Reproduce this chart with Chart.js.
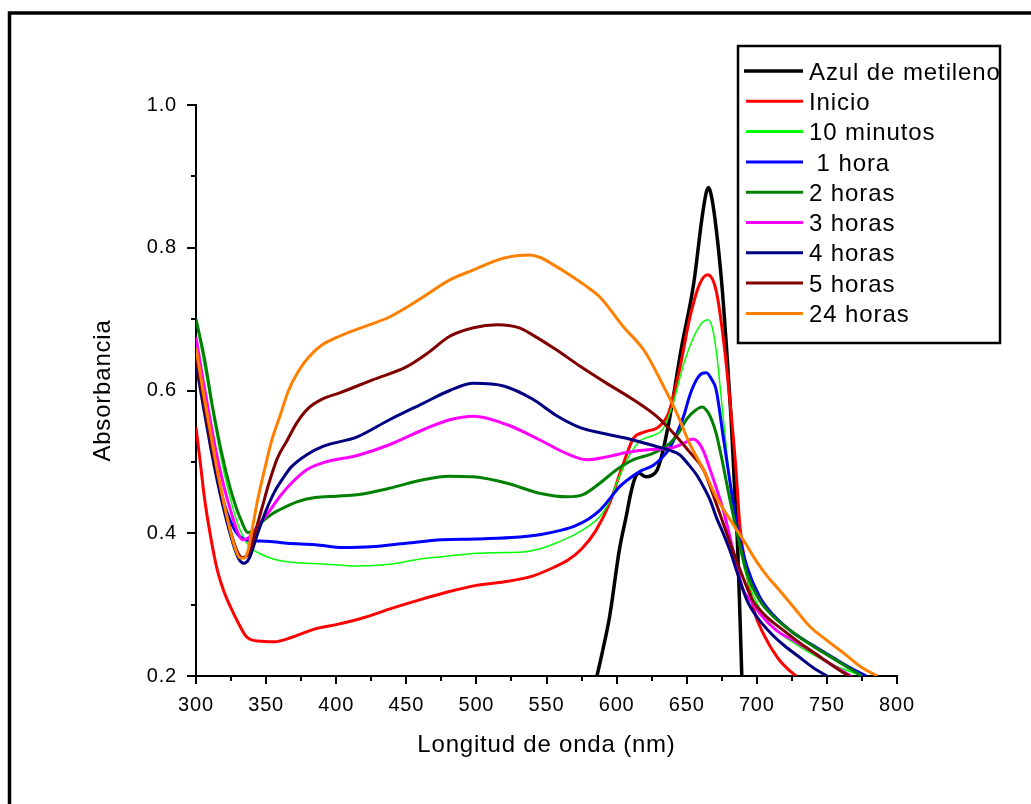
<!DOCTYPE html>
<html>
<head>
<meta charset="utf-8">
<script src="https://cdn.jsdelivr.net/npm/chart.js@4.4.1/dist/chart.umd.min.js"></script>
<style>
  html, body { margin: 0; padding: 0; background: #fff; overflow: hidden; }
  canvas { display: block; }
</style>
</head>
<body>
<canvas id="c" width="1031" height="804" style="width:1031px;height:804px"></canvas>
<script>
// UV-Vis spectra: absorbance vs wavelength (nm)
const seriesNames = ['Azul de metileno', 'Inicio', '10 minutos', ' 1 hora', '2 horas', '3 horas', '4 horas', '5 horas', '24 horas'];
const seriesColors = ['#000000', '#ff0000', '#00ff00', '#0000ff', '#008000', '#ff00ff', '#000080', '#800000', '#ff8000'];

const xTickLabels = [300, 350, 400, 450, 500, 550, 600, 650, 700, 750, 800];
const yTickLabels = ['0.2', '0.4', '0.6', '0.8', '1.0'];

const wlAzul = [586, 590, 595, 602, 607, 610, 613, 616, 621, 625, 629, 633, 638, 646, 655, 661, 664, 665.5, 667, 670, 675, 678.5, 681.6, 684, 686.4, 688, 689.3];
const absAzul = [0.200, 0.235, 0.283, 0.377, 0.425, 0.455, 0.477, 0.484, 0.479, 0.481, 0.489, 0.515, 0.563, 0.657, 0.750, 0.843, 0.878, 0.884, 0.878, 0.843, 0.750, 0.657, 0.563, 0.470, 0.377, 0.283, 0.200];

const wlInicio = [300, 303, 306, 310, 315, 320, 325, 330, 336, 344, 356, 368, 385, 400, 420, 440, 460, 480, 500, 520, 540, 555, 565, 575, 585, 595, 604, 612, 620, 630, 637, 645, 652, 659, 665, 671, 676, 681, 685, 688, 693, 698, 705, 715, 722, 728];
const absInicio = [0.548, 0.500, 0.450, 0.400, 0.350, 0.318, 0.295, 0.275, 0.255, 0.249, 0.248, 0.254, 0.266, 0.272, 0.282, 0.295, 0.307, 0.318, 0.327, 0.332, 0.340, 0.352, 0.362, 0.378, 0.403, 0.442, 0.493, 0.533, 0.542, 0.549, 0.568, 0.630, 0.700, 0.748, 0.762, 0.740, 0.675, 0.582, 0.493, 0.409, 0.344, 0.292, 0.258, 0.225, 0.210, 0.200];

const wl10min = [300, 305, 310, 315, 320, 325, 330, 335, 340, 345, 355, 370, 390, 415, 440, 460, 480, 500, 520, 535, 550, 560, 570, 580, 588, 595, 600, 605, 610, 617, 626, 633, 640, 648, 655, 661, 665, 668, 671, 676, 681, 686, 690, 695, 702, 712, 725, 740, 755, 775];
const abs10min = [0.700, 0.645, 0.590, 0.535, 0.485, 0.445, 0.412, 0.390, 0.378, 0.372, 0.364, 0.359, 0.357, 0.354, 0.357, 0.364, 0.368, 0.372, 0.373, 0.374, 0.381, 0.389, 0.398, 0.410, 0.423, 0.445, 0.470, 0.493, 0.512, 0.530, 0.537, 0.546, 0.580, 0.638, 0.675, 0.695, 0.699, 0.690, 0.657, 0.563, 0.470, 0.400, 0.360, 0.325, 0.295, 0.268, 0.248, 0.230, 0.215, 0.200];

const wl1h = [300, 305, 310, 315, 320, 325, 330, 337, 345, 355, 365, 385, 405, 425, 450, 475, 500, 525, 545, 560, 570, 580, 588, 595, 602, 610, 618, 626, 632, 638, 643, 648, 652, 657, 661, 664, 668, 671, 676, 681, 686, 693, 702, 712, 725, 740, 755, 768, 778];
const abs1h = [0.645, 0.590, 0.533, 0.485, 0.442, 0.415, 0.398, 0.390, 0.389, 0.388, 0.386, 0.384, 0.380, 0.381, 0.386, 0.391, 0.392, 0.394, 0.398, 0.404, 0.410, 0.420, 0.432, 0.448, 0.465, 0.478, 0.488, 0.495, 0.505, 0.520, 0.540, 0.565, 0.592, 0.615, 0.624, 0.625, 0.615, 0.601, 0.536, 0.470, 0.409, 0.353, 0.311, 0.285, 0.262, 0.243, 0.225, 0.210, 0.200];

const wl2h = [300, 306, 312, 318, 324, 328, 332, 337, 341, 346, 355, 365, 372, 385, 400, 415, 438, 462, 480, 498, 522, 545, 565, 576, 588, 600, 612, 626, 638, 644, 650, 656, 661, 665, 668, 671, 675, 679, 686, 693, 702, 712, 725, 740, 755, 765, 775];
const abs2h = [0.700, 0.645, 0.575, 0.515, 0.466, 0.440, 0.419, 0.401, 0.403, 0.414, 0.428, 0.438, 0.444, 0.450, 0.452, 0.454, 0.463, 0.475, 0.480, 0.479, 0.470, 0.456, 0.451, 0.454, 0.470, 0.489, 0.503, 0.512, 0.526, 0.540, 0.560, 0.572, 0.577, 0.570, 0.558, 0.540, 0.505, 0.465, 0.400, 0.344, 0.306, 0.283, 0.262, 0.242, 0.224, 0.212, 0.200];

const wl3h = [300, 305, 310, 315, 320, 325, 330, 333, 337, 344, 352, 360, 367, 379, 391, 415, 438, 462, 481, 498, 522, 545, 564, 579, 593, 607, 622, 638, 648, 654, 658, 662, 666, 670, 676, 683, 690, 696, 702, 714, 726, 738, 750, 760, 767];
const abs3h = [0.675, 0.615, 0.560, 0.508, 0.465, 0.430, 0.400, 0.391, 0.393, 0.410, 0.430, 0.452, 0.468, 0.489, 0.499, 0.509, 0.524, 0.545, 0.559, 0.564, 0.552, 0.531, 0.512, 0.503, 0.507, 0.513, 0.517, 0.519, 0.526, 0.532, 0.528, 0.515, 0.493, 0.470, 0.433, 0.377, 0.322, 0.305, 0.288, 0.264, 0.250, 0.236, 0.220, 0.208, 0.200];

const wl4h = [300, 305, 310, 315, 320, 325, 330, 334, 338, 344, 350, 356, 362, 368, 379, 391, 415, 438, 462, 481, 498, 520, 540, 557, 574, 590, 607, 624, 638, 645, 651, 657, 662, 667, 671, 676, 681, 686, 693, 700, 710, 720, 730, 740, 750];
const abs4h = [0.638, 0.580, 0.525, 0.475, 0.432, 0.395, 0.366, 0.358, 0.365, 0.400, 0.432, 0.458, 0.477, 0.493, 0.510, 0.522, 0.535, 0.559, 0.582, 0.600, 0.610, 0.606, 0.588, 0.565, 0.548, 0.540, 0.533, 0.524, 0.516, 0.510, 0.497, 0.482, 0.465, 0.445, 0.423, 0.400, 0.375, 0.345, 0.306, 0.283, 0.260, 0.242, 0.227, 0.212, 0.200];

const wl5h = [300, 305, 310, 315, 320, 325, 330, 333, 337, 342, 347, 352, 358, 365, 372, 380, 390, 403, 426, 450, 465, 481, 498, 515, 530, 540, 557, 574, 593, 612, 629, 643, 652, 662, 671, 681, 688, 697, 707, 719, 731, 745, 759, 766];
const abs5h = [0.650, 0.590, 0.535, 0.485, 0.440, 0.400, 0.372, 0.366, 0.370, 0.400, 0.435, 0.470, 0.505, 0.530, 0.555, 0.575, 0.588, 0.597, 0.615, 0.633, 0.652, 0.676, 0.688, 0.692, 0.688, 0.678, 0.657, 0.634, 0.610, 0.587, 0.563, 0.535, 0.514, 0.489, 0.442, 0.386, 0.349, 0.306, 0.283, 0.264, 0.246, 0.227, 0.208, 0.200];

const wl24h = [300, 305, 310, 316, 322, 327, 331, 334, 337, 340, 344, 349, 354, 360, 366, 373, 380, 390, 400, 415, 438, 462, 481, 498, 517, 530, 538, 546, 555, 565, 577, 588, 605, 620, 634, 643, 652, 662, 671, 681, 690, 700, 709, 714, 726, 738, 750, 762, 774, 786];
const abs24h = [0.660, 0.600, 0.545, 0.480, 0.424, 0.385, 0.366, 0.365, 0.375, 0.405, 0.447, 0.490, 0.530, 0.565, 0.600, 0.627, 0.646, 0.664, 0.674, 0.686, 0.703, 0.731, 0.755, 0.769, 0.784, 0.789, 0.790, 0.786, 0.776, 0.764, 0.748, 0.731, 0.689, 0.655, 0.604, 0.568, 0.526, 0.489, 0.451, 0.419, 0.392, 0.360, 0.336, 0.325, 0.297, 0.269, 0.250, 0.232, 0.213, 0.200];

const seriesX = [wlAzul, wlInicio, wl10min, wl1h, wl2h, wl3h, wl4h, wl5h, wl24h];
const seriesY = [absAzul, absInicio, abs10min, abs1h, abs2h, abs3h, abs4h, abs5h, abs24h];
const lineWidths = [3.5, 3, 1.5, 3, 3, 3, 3, 3, 3];

const FONT = "'Liberation Sans', Arial, Helvetica, sans-serif";

const datasets = seriesNames.map((name, i) => ({
  label: name,
  data: seriesX[i].map((x, k) => ({ x: x, y: seriesY[i][k] })),
  borderColor: seriesColors[i],
  backgroundColor: seriesColors[i],
  borderWidth: lineWidths[i],
  pointRadius: 0,
  fill: false,
  cubicInterpolationMode: 'monotone',
  order: seriesNames.length - i
}));

// white page with the outer frame
const framePlugin = {
  id: 'frame',
  beforeDraw(chart) {
    const ctx = chart.ctx;
    ctx.save();
    ctx.fillStyle = '#fff';
    ctx.fillRect(0, 0, chart.width, chart.height);
    ctx.strokeStyle = '#000';
    ctx.lineWidth = 3.5;
    ctx.beginPath();
    ctx.moveTo(9.5, chart.height + 10);
    ctx.lineTo(9.5, 13);
    ctx.lineTo(chart.width + 10, 13);
    ctx.stroke();
    ctx.restore();
    ctx.letterSpacing = '0.8px';
  }
};

// outward major / minor tick marks on the two axes
const tickPlugin = {
  id: 'axisTicks',
  afterDraw(chart) {
    const { ctx, chartArea: a, scales: { x, y } } = chart;
    ctx.save();
    ctx.strokeStyle = '#000';
    ctx.lineWidth = 2;
    ctx.beginPath();
    x.ticks.forEach(t => {
      const p = Math.round(x.getPixelForValue(t.value));
      const len = Math.round(t.value) % 50 === 0 ? 8 : 5;
      ctx.moveTo(p, a.bottom);
      ctx.lineTo(p, a.bottom + len);
    });
    y.ticks.forEach(t => {
      const p = Math.round(y.getPixelForValue(t.value));
      const len = Math.round(t.value * 10) % 2 === 0 ? 9 : 5;
      ctx.moveTo(a.left, p);
      ctx.lineTo(a.left - len, p);
    });
    ctx.stroke();
    ctx.restore();
  }
};

// boxed legend in the upper right
const legendPlugin = {
  id: 'boxLegend',
  afterDraw(chart) {
    const ctx = chart.ctx;
    const bx = 738, by = 46, bw = 262, bh = 297;
    ctx.save();
    ctx.fillStyle = '#fff';
    ctx.fillRect(bx, by, bw, bh);
    ctx.font = '24px ' + FONT;
    ctx.letterSpacing = '0.9px';
    ctx.textAlign = 'left';
    ctx.textBaseline = 'alphabetic';
    chart.data.datasets.forEach((ds, i) => {
      const ry = 71 + i * 30.3;
      ctx.strokeStyle = ds.borderColor;
      ctx.lineWidth = i === 0 ? 3.5 : 3;
      ctx.beginPath();
      ctx.moveTo(i === 0 ? 744 : 746, ry);
      ctx.lineTo(803, ry);
      ctx.stroke();
      ctx.fillStyle = '#000';
      ctx.fillText(ds.label, 809, ry + 8.6);
    });
    ctx.strokeStyle = '#000';
    ctx.lineWidth = 2.5;
    ctx.strokeRect(bx, by, bw, bh);
    ctx.restore();
  }
};

new Chart(document.getElementById('c'), {
  type: 'line',
  data: { datasets: datasets },
  options: {
    responsive: false,
    animation: false,
    devicePixelRatio: 1,
    layout: { padding: { top: 105, right: 134, bottom: 0, left: 0 } },
    plugins: { legend: { display: false }, tooltip: { enabled: false } },
    scales: {
      x: {
        type: 'linear',
        min: 300, max: 800,
        afterFit(scale) { scale.height = 128; },
        grid: { display: false, drawTicks: false },
        border: { display: true, color: '#000', width: 2 },
        ticks: {
          stepSize: 25,
          autoSkip: false,
          maxRotation: 0,
          padding: 17,
          color: '#000',
          font: { family: FONT, size: 20 },
          callback: v => xTickLabels.includes(Math.round(v)) ? String(Math.round(v)) : ''
        },
        title: {
          display: true,
          text: 'Longitud de onda (nm)',
          color: '#000',
          font: { family: FONT, size: 24 },
          padding: { top: 0, bottom: 44 }
        }
      },
      y: {
        type: 'linear',
        min: 0.2, max: 1.0,
        afterFit(scale) { scale.width = 196; },
        grid: { display: false, drawTicks: false },
        border: { display: true, color: '#000', width: 2 },
        ticks: {
          stepSize: 0.1,
          autoSkip: false,
          padding: 19,
          color: '#000',
          font: { family: FONT, size: 20 },
          callback: v => {
            const s = v.toFixed(1);
            return yTickLabels.includes(s) ? s : '';
          }
        },
        title: {
          display: true,
          text: 'Absorbancia',
          color: '#000',
          font: { family: FONT, size: 24 },
          padding: { top: 89, bottom: 0 }
        }
      }
    }
  },
  plugins: [framePlugin, tickPlugin, legendPlugin]
});
</script>
</body>
</html>
